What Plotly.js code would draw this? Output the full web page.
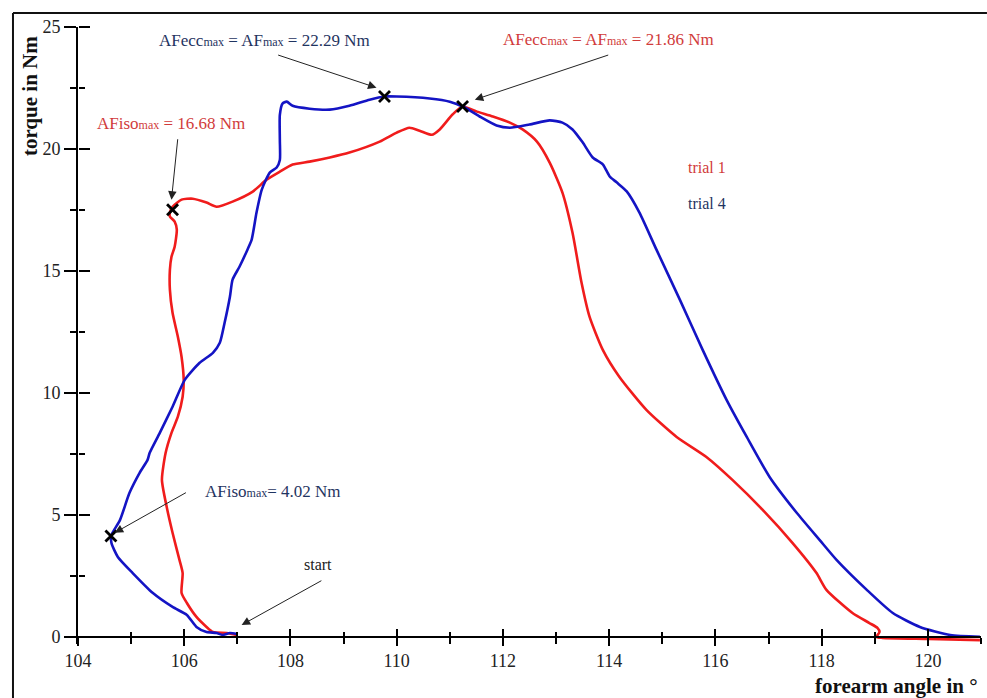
<!DOCTYPE html>
<html>
<head>
<meta charset="utf-8">
<script src="https://cdn.plot.ly/plotly-3.0.1.min.js"></script>
<style>
html,body{margin:0;padding:0;background:#fff;}
#chart{width:987px;height:698px;}
</style>
</head>
<body>
<div id="chart"></div>
<script>
// ---- data (forearm angle in degrees, torque in Nm) ----
var trial1X = [106.99,106.80,106.54,106.42,106.23,106.05,105.95,105.97,105.91,105.78,105.67,105.58,105.65,105.76,105.88,105.97,105.99,105.95,105.88,105.78,105.73,105.73,105.76,105.82,105.86,105.82,105.73,105.73,105.78,105.95,106.16,106.42,106.61,106.91,107.29,107.55,107.80,108.04,108.36,108.74,109.11,109.68,110.00,110.24,110.43,110.66,110.81,111.05,111.24,111.51,111.81,112.13,112.37,112.64,112.88,113.12,113.31,113.48,113.63,113.88,114.19,114.70,115.27,115.83,116.32,116.89,117.45,117.90,118.09,118.58,118.90,119.05,119.09,119.03,119.14,120.02,120.98];
var trial1Y = [0.07,0.15,0.19,0.40,0.81,1.38,1.79,2.61,3.15,4.26,5.32,6.43,7.54,8.36,9.02,9.84,10.53,11.47,12.30,13.28,14.23,15.04,15.58,15.99,16.69,17.02,17.23,17.39,17.63,17.92,17.96,17.80,17.63,17.84,18.25,18.74,19.07,19.36,19.48,19.65,19.85,20.30,20.67,20.87,20.75,20.58,20.80,21.41,21.74,21.53,21.33,21.08,20.80,20.30,19.44,18.21,16.56,14.51,13.12,11.76,10.66,9.30,8.19,7.37,6.43,5.20,3.85,2.62,1.92,0.97,0.56,0.36,0.19,-0.01,-0.05,-0.09,-0.14];

var trial4X = [106.99,106.86,106.72,106.61,106.42,106.23,106.05,105.78,105.41,105.03,104.75,104.63,104.63,104.79,104.97,105.16,105.31,105.35,105.54,105.78,106.01,106.29,106.54,106.67,106.76,106.86,106.91,107.04,107.19,107.27,107.36,107.46,107.61,107.74,107.80,107.80,107.80,107.85,107.93,108.04,108.36,108.74,109.11,109.49,109.77,110.00,110.62,111.00,111.28,111.56,111.88,112.13,112.50,112.88,113.12,113.31,113.50,113.69,113.88,114.01,114.14,114.33,114.57,114.89,115.33,115.76,116.21,116.59,117.02,117.53,117.96,118.28,118.85,119.34,119.85,120.42,120.98];
var trial4Y = [0.11,0.15,0.07,0.15,0.19,0.40,0.89,1.22,1.79,2.61,3.27,3.84,4.17,4.78,5.90,6.72,7.25,7.54,8.36,9.43,10.53,11.23,11.64,12.05,12.87,13.94,14.64,15.17,15.87,16.28,17.38,18.33,19.03,19.24,19.55,20.38,21.40,21.86,21.94,21.77,21.65,21.61,21.77,22.02,22.15,22.15,22.07,21.94,21.70,21.33,20.96,20.87,21.00,21.17,21.08,20.80,20.27,19.65,19.37,18.87,18.63,18.26,17.39,15.87,13.82,11.76,9.71,8.19,6.55,5.08,3.97,3.15,1.92,0.97,0.40,0.07,0.00];

// marked maxima (x markers)
var markX = [109.77, 111.24, 105.78, 104.62];
var markY = [22.15, 21.74, 17.51, 4.13];

// labels
var labelTexts = [
  "AFecc<span style='font-size:12px'>max</span> = AF<span style='font-size:12px'>max</span> = 22.29 Nm",
  "AFecc<span style='font-size:12px'>max</span> = AF<span style='font-size:12px'>max</span> = 21.86 Nm",
  "AFiso<span style='font-size:12px'>max</span> = 16.68 Nm",
  "AFiso<span style='font-size:12px'>max</span>= 4.02 Nm",
  "start",
  "trial 1",
  "trial 4"
];
var labelX = [107.52, 113.99, 105.76, 107.67, 108.51, 115.85, 115.85];
var labelY = [24.44, 24.48, 21.03, 5.94, 2.94, 19.23, 17.75];
var labelColor = ["#1f3461", "#d13b3b", "#d13b3b", "#1f3461", "#222222", "#d13b3b", "#1f3461"];
var labelSize = [17, 17, 17, 17, 16, 16, 16];

// arrows: tail -> head
var arrowTailX = [107.74, 114.01, 105.88, 106.06, 108.61];
var arrowTailY = [23.87, 23.87, 20.46, 5.94, 2.33];
var arrowHeadX = [109.62, 111.47, 105.76, 104.69, 107.08];
var arrowHeadY = [22.51, 22.02, 17.92, 4.26, 0.48];

var xTitle = "forearm angle in °";
var yTitle = "torque in Nm";

// ---- layout ----
var FONT = "Liberation Serif, Times New Roman, serif";
var yMin = -0.3, yMax = 25;
var axisPos = (0 - yMin) / (yMax - yMin);

var traces = [
  {x: trial1X, y: trial1Y, mode: 'lines', name: 'trial 1',
   line: {color: '#f01c1c', width: 2.6, shape: 'spline', smoothing: 0.6}, hoverinfo: 'skip'},
  {x: trial4X, y: trial4Y, mode: 'lines', name: 'trial 4',
   line: {color: '#1414c4', width: 2.6, shape: 'spline', smoothing: 0.6}, hoverinfo: 'skip'},
  {x: markX, y: markY, mode: 'markers', name: 'max',
   marker: {symbol: 'x-thin', size: 11, color: '#000', line: {color: '#000', width: 2.8}}, hoverinfo: 'skip', cliponaxis: false},
  // empty helper trace so the overlaid tick axes (other halves of crossing ticks) are drawn
  {x: [null], y: [null], xaxis: 'x2', yaxis: 'y2', mode: 'lines', hoverinfo: 'skip', showlegend: false}
];

var annotations = [];
for (var i = 0; i < labelTexts.length; i++) {
  annotations.push({
    x: labelX[i], y: labelY[i], xref: 'x', yref: 'y', text: labelTexts[i], showarrow: false,
    xanchor: 'center', yanchor: 'middle',
    font: {family: FONT, size: labelSize[i], color: labelColor[i]}
  });
}
for (var j = 0; j < arrowTailX.length; j++) {
  annotations.push({
    x: arrowHeadX[j], y: arrowHeadY[j], ax: arrowTailX[j], ay: arrowTailY[j],
    xref: 'x', yref: 'y', axref: 'x', ayref: 'y', text: '', showarrow: true,
    arrowhead: 2, arrowsize: 1.7, arrowwidth: 1, arrowcolor: '#222'
  });
}
annotations.push({
  xref: 'paper', yref: 'paper', x: 0.9989, y: -0.068, xanchor: 'right', yanchor: 'middle',
  text: xTitle, showarrow: false, font: {family: FONT, size: 21, color: '#111', weight: 'bold'}
});
annotations.push({
  xref: 'paper', yref: 'paper', x: -0.0532, y: 0.888, xanchor: 'center', yanchor: 'middle',
  text: yTitle, textangle: -90, showarrow: false, font: {family: FONT, size: 21, color: '#111', weight: 'bold'}
});

var tickFont = {family: FONT, size: 18, color: '#222'};

var layout = {
  width: 987, height: 698,
  margin: {l: 78, r: 6, t: 27, b: 54, pad: 0},
  paper_bgcolor: '#fff', plot_bgcolor: '#fff',
  showlegend: false,
  xaxis: {
    range: [104, 121], anchor: 'free', position: axisPos,
    showgrid: false, zeroline: false, showline: true, linecolor: '#000', linewidth: 2,
    tickmode: 'linear', tick0: 104, dtick: 2, ticks: 'outside', ticklen: 8, tickwidth: 2, tickcolor: '#000',
    minor: {dtick: 1, ticks: 'outside', ticklen: 6, tickwidth: 2, tickcolor: '#000', showgrid: false},
    tickfont: tickFont, fixedrange: true
  },
  xaxis2: {
    range: [104, 121], overlaying: 'x', anchor: 'free', position: axisPos,
    showgrid: false, zeroline: false, showline: false, showticklabels: false,
    tickmode: 'linear', tick0: 104, dtick: 2, ticks: 'inside', ticklen: 8, tickwidth: 2, tickcolor: '#000',
    minor: {dtick: 1, ticks: 'inside', ticklen: 5, tickwidth: 2, tickcolor: '#000', showgrid: false},
    fixedrange: true
  },
  yaxis: {
    range: [yMin, yMax],
    showgrid: false, zeroline: false, showline: true, linecolor: '#000', linewidth: 2,
    tickmode: 'linear', tick0: 0, dtick: 5, ticks: 'outside', ticklen: 12, tickwidth: 2, tickcolor: '#000',
    minor: {dtick: 2.5, ticks: 'outside', ticklen: 6, tickwidth: 2, tickcolor: '#000', showgrid: false},
    tickfont: tickFont, fixedrange: true
  },
  yaxis2: {
    range: [yMin, yMax], overlaying: 'y', side: 'right', anchor: 'free', position: 0,
    showgrid: false, zeroline: false, showline: false, showticklabels: false,
    tickmode: 'linear', tick0: 0, dtick: 5, ticks: 'outside', ticklen: 11, tickwidth: 2, tickcolor: '#000',
    minor: {dtick: 2.5, ticks: 'outside', ticklen: 6, tickwidth: 2, tickcolor: '#000', showgrid: false},
    fixedrange: true
  },
  annotations: annotations,
  shapes: [
    {type: 'line', xref: 'paper', yref: 'paper', x0: -0.072, x1: -0.072, y0: 1.0227, y1: -0.1, line: {color: '#111', width: 2}},
    {type: 'line', xref: 'paper', yref: 'paper', x0: -0.072, x1: 1.0066, y0: 1.0227, y1: 1.0227, line: {color: '#111', width: 2}}
  ]
};

Plotly.newPlot('chart', traces, layout, {displayModeBar: false, staticPlot: true});
</script>
</body>
</html>
